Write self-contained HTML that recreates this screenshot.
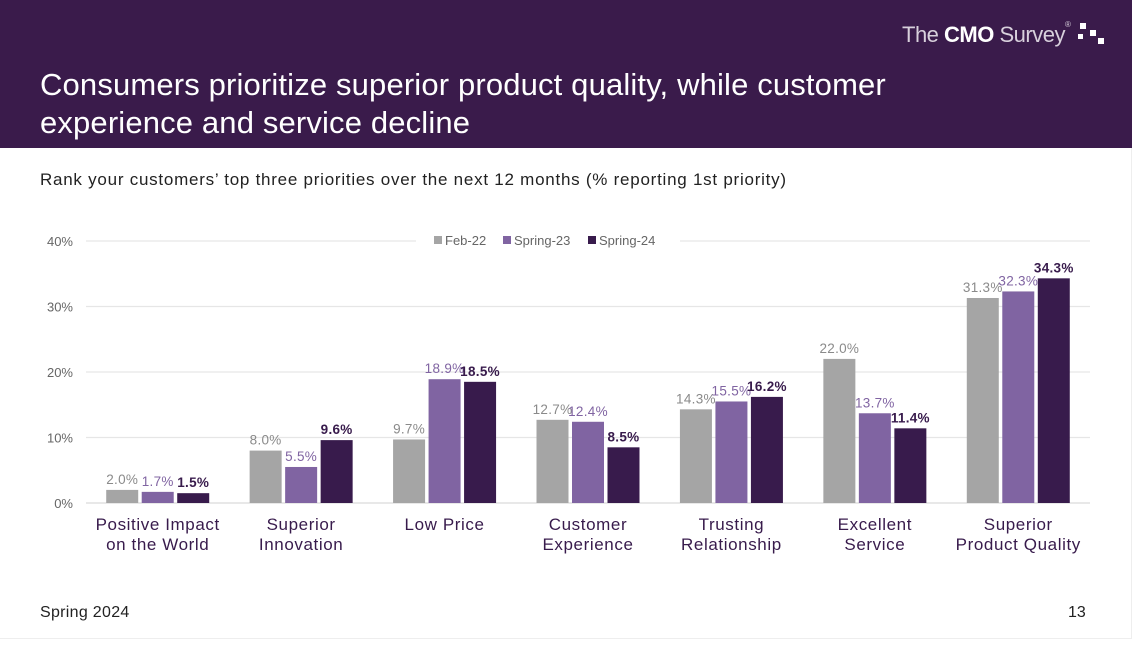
<!DOCTYPE html>
<html><head><meta charset="utf-8">
<style>
body{margin:0;width:1134px;height:664px;background:#fff;overflow:hidden;font-family:"Liberation Sans",Arial,sans-serif;position:relative}
#slide{position:absolute;left:0;top:0;width:1132px;height:639px;border-right:1px solid #eee;border-bottom:1px solid #eee;box-sizing:border-box}
#header{position:absolute;left:0;top:0;width:1132px;height:148px;background:#3a1b4b}
#title{position:absolute;left:40px;top:66px;color:#fff;font-size:31px;letter-spacing:0.15px;line-height:38px;margin:0;font-weight:normal}
#logo{position:absolute;left:902px;top:20px;color:#d8d0dc;font-size:22px;letter-spacing:-0.5px}
#logo b{color:#fff}
#sub{position:absolute;left:40px;top:170px;font-size:17px;letter-spacing:0.75px;color:#222}
#foot{position:absolute;left:40px;top:604px;font-size:16px;letter-spacing:0.3px;color:#222}
#pg{position:absolute;left:1068px;top:604px;font-size:16px;color:#222}
</style></head><body>
<div id="slide">
<div id="header">
<div id="logo">The <b>CMO</b> Survey<span style="font-size:8px;vertical-align:top">®</span>
<svg width="30" height="24" style="vertical-align:-2px"><rect x="4" y="3" width="6" height="6" fill="#fff"/><rect x="14" y="10" width="6" height="6" fill="#fff"/><rect x="2" y="14" width="5" height="5" fill="#fff"/><rect x="22" y="18" width="6" height="6" fill="#fff"/></svg></div>
<h1 id="title">Consumers prioritize superior product quality, while customer<br>experience and service decline</h1>
</div>
<div id="sub">Rank your customers’ top three priorities over the next 12 months (% reporting 1st priority)</div>
<svg id="chart" width="1134" height="600" style="position:absolute;left:0;top:0"></svg>
<div id="foot">Spring 2024</div>
<div id="pg">13</div>
</div>
<script>
const categories=[["Positive Impact","on the World"],["Superior","Innovation"],["Low Price"],["Customer","Experience"],["Trusting","Relationship"],["Excellent","Service"],["Superior","Product Quality"]];
const seriesNames=["Feb-22","Spring-23","Spring-24"];
const feb22=[2.0,8.0,9.7,12.7,14.3,22.0,31.3];
const spring23=[1.7,5.5,18.9,12.4,15.5,13.7,32.3];
const spring24=[1.5,9.6,18.5,8.5,16.2,11.4,34.3];
const yTicks=[0,10,20,30,40];
const tickLabels=["0%","10%","20%","30%","40%"];
const series=[feb22,spring23,spring24];
const colors=["#a5a5a5","#8064a2","#381b4c"];
const labelColors=["#8a8a8a","#8064a2","#381b4c"];
const svg=document.getElementById('chart');
const NS="http://www.w3.org/2000/svg";
const x0=86,x1=1090,yBase=503,yTop=241,yMax=40;
const y=v=>yBase-(v/yMax)*(yBase-yTop);
const bw=(x1-x0)/categories.length;
const xc=i=>x0+bw*(i+0.5);
function mk(t,a){const e=document.createElementNS(NS,t);for(const k in a)e.setAttribute(k,a[k]);svg.appendChild(e);return e;}
yTicks.forEach((t,i)=>{
  const g=mk('line',{x1:x0,x2:x1,y1:y(t),y2:y(t),stroke:i==0?'#d9d9d9':'#e6e6e6','stroke-width':1.3});
  
  
  const l=mk('text',{x:73,y:y(t)+5,'text-anchor':'end','font-size':13,fill:'#666'});
  l.textContent=tickLabels[i];
  
  
});
const lg=mk('rect',{x:416,y:231,width:264,height:18,fill:'#fff'});


const lx=[434,503,588];
seriesNames.forEach((n,s)=>{
  const r=mk('rect',{x:lx[s],y:236,width:8,height:8,fill:colors[s]});
  
  
  const t=mk('text',{x:lx[s]+11,y:245,'font-size':13,fill:'#666'});
  t.textContent=n;
  
  
});
const barW=32,step=35.5;
categories.forEach((c,i)=>{
  series.forEach((d,s)=>{
    const bx=xc(i)+(s-1)*step-barW/2;
    const r=mk('rect',{x:bx,y:y(d[i]),width:barW,height:yBase-y(d[i]),fill:colors[s]});
    
    
    const t=mk('text',{x:bx+barW/2,y:y(d[i])-6,'text-anchor':'middle','font-size':13.5,'letter-spacing':0.3,fill:labelColors[s],'font-weight':s==2?'bold':'normal'});
    t.textContent=d[i].toFixed(1)+'%';
    
    
  });
  c.forEach((line,k)=>{
    const t=mk('text',{x:xc(i),y:530+k*20,'text-anchor':'middle','font-size':17,'letter-spacing':0.6,fill:'#381b4c'});
    t.textContent=line;
    
    
  });
});
</script>
</body></html>
